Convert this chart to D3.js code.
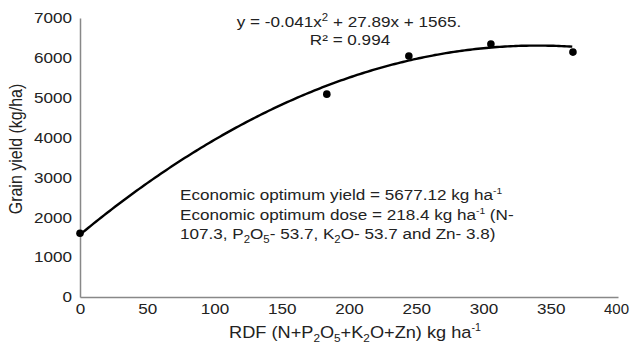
<!DOCTYPE html>
<html>
<head>
<meta charset="utf-8">
<script src="https://cdn.jsdelivr.net/npm/d3@7"></script>
<style>
  body { margin: 0; background: #fff; }
  text { font-family: "Liberation Sans", Arial, sans-serif; fill: #222; }
  .axis path { stroke: #888; stroke-width: 1.5px; }
  .axis text { font-size: 15px; }
</style>
</head>
<body>
<svg width="631" height="344"></svg>
<script>
// data
var doses = [0, 183.5, 244.5, 305.5, 366.5];
var yields = [1600, 5090, 6045, 6345, 6145];
var coef = {a: -0.041, b: 27.89, c: 1565};
var xTicks = [0, 50, 100, 150, 200, 250, 300, 350, 400];
var yTicks = [0, 1000, 2000, 3000, 4000, 5000, 6000, 7000];

var svg = d3.select("svg"),
    margin = {top: 18, right: 13, bottom: 47, left: 80},
    width = +svg.attr("width") - margin.left - margin.right,
    height = +svg.attr("height") - margin.top - margin.bottom,
    sx = 1.14; // the source text is a bit wide

var x = d3.scaleLinear().domain([0, 400]).range([0, width]);
var y = d3.scaleLinear().domain([0, 7000]).range([height, 0]);

var chart = svg.append("g")
    .attr("transform", "translate(" + margin.left + "," + margin.top + ")");

// axes, no tick marks
chart.append("g")
    .attr("class", "x axis")
    .attr("transform", "translate(0," + height + ")")
    .call(d3.axisBottom(x).tickValues(xTicks).tickFormat(d3.format("d"))
      .tickSize(0).tickPadding(6).tickSizeOuter(0))
    .call(function(g) {
      g.selectAll("text").attr("font-family", null).attr("font-size", null)
        .attr("transform", function(d) {
          // last label sits at the page edge, keep it inside
          return d === 400 ? "translate(-2,0)" : "scale(" + sx + ",1)";
        });
    });

chart.append("g")
    .attr("class", "y axis")
    .call(d3.axisLeft(y).tickValues(yTicks).tickFormat(d3.format("d"))
      .tickSize(0).tickPadding(7).tickSizeOuter(0))
    .call(function(g) {
      g.selectAll("text").attr("font-family", null).attr("font-size", null)
        .attr("transform", "scale(" + sx + ",1)");
    });

// fitted curve
var fit = d3.range(0, 366.5 + 0.01, 2).map(function(d) {
  return [d, coef.a * d * d + coef.b * d + coef.c];
});
chart.append("path")
    .datum(fit)
    .attr("fill", "none")
    .attr("stroke", "#000")
    .attr("stroke-width", 2.4)
    .attr("d", d3.line()
      .x(function(d) { return x(d[0]); })
      .y(function(d) { return y(d[1]); }));

chart.selectAll(".dot")
    .data(doses)
  .enter().append("circle")
    .attr("class", "dot")
    .attr("cx", function(d) { return x(d); })
    .attr("cy", function(d, i) { return y(yields[i]); })
    .attr("r", 3.8)
    .attr("fill", "#000");

// text placed at (px, py), stretched sideways
function wideText(px, py, k, size) {
  return svg.append("text")
      .attr("transform", "translate(" + px + "," + py + ") scale(" + k + ",1)")
      .attr("font-size", size + "px");
}

// equation
var eq = wideText(349, 27, sx, 15).attr("text-anchor", "middle");
eq.append("tspan").text("y = -0.041x");
eq.append("tspan").attr("font-size", "10px").attr("dy", -6).text("2");
eq.append("tspan").attr("dy", 6).text(" + 27.89x + 1565.");

wideText(350, 45, sx, 15).attr("text-anchor", "middle").text("R² = 0.994");

// annotation
var l1 = wideText(180, 200, sx, 15);
l1.append("tspan").text("Economic optimum yield = 5677.12 kg ha");
l1.append("tspan").attr("font-size", "9px").attr("dy", -6).text("-1");

var l2 = wideText(180, 220, sx, 15);
l2.append("tspan").text("Economic optimum dose = 218.4 kg ha");
l2.append("tspan").attr("font-size", "9px").attr("dy", -6).text("-1");
l2.append("tspan").attr("dy", 6).text(" (N-");

var l3 = wideText(180, 239, sx, 15);
l3.append("tspan").text("107.3, P");
l3.append("tspan").attr("font-size", "10px").attr("dy", 4).text("2");
l3.append("tspan").attr("dy", -4).text("O");
l3.append("tspan").attr("font-size", "10px").attr("dy", 4).text("5");
l3.append("tspan").attr("dy", -4).text("- 53.7, K");
l3.append("tspan").attr("font-size", "10px").attr("dy", 4).text("2");
l3.append("tspan").attr("dy", -4).text("O- 53.7 and Zn- 3.8)");

// axis labels
svg.append("text")
    .attr("transform", "translate(22,149) rotate(-90) scale(1,1.1)")
    .attr("text-anchor", "middle")
    .attr("font-size", "16px")
    .text("Grain yield (kg/ha)");

var xl = wideText(355, 338, 1.07, 17).attr("text-anchor", "middle");
xl.append("tspan").text("RDF (N+P");
xl.append("tspan").attr("font-size", "11px").attr("dy", 4).text("2");
xl.append("tspan").attr("dy", -4).text("O");
xl.append("tspan").attr("font-size", "11px").attr("dy", 4).text("5");
xl.append("tspan").attr("dy", -4).text("+K");
xl.append("tspan").attr("font-size", "11px").attr("dy", 4).text("2");
xl.append("tspan").attr("dy", -4).text("O+Zn) kg ha");
xl.append("tspan").attr("font-size", "10px").attr("dy", -7).text("-1");
</script>
</body>
</html>
